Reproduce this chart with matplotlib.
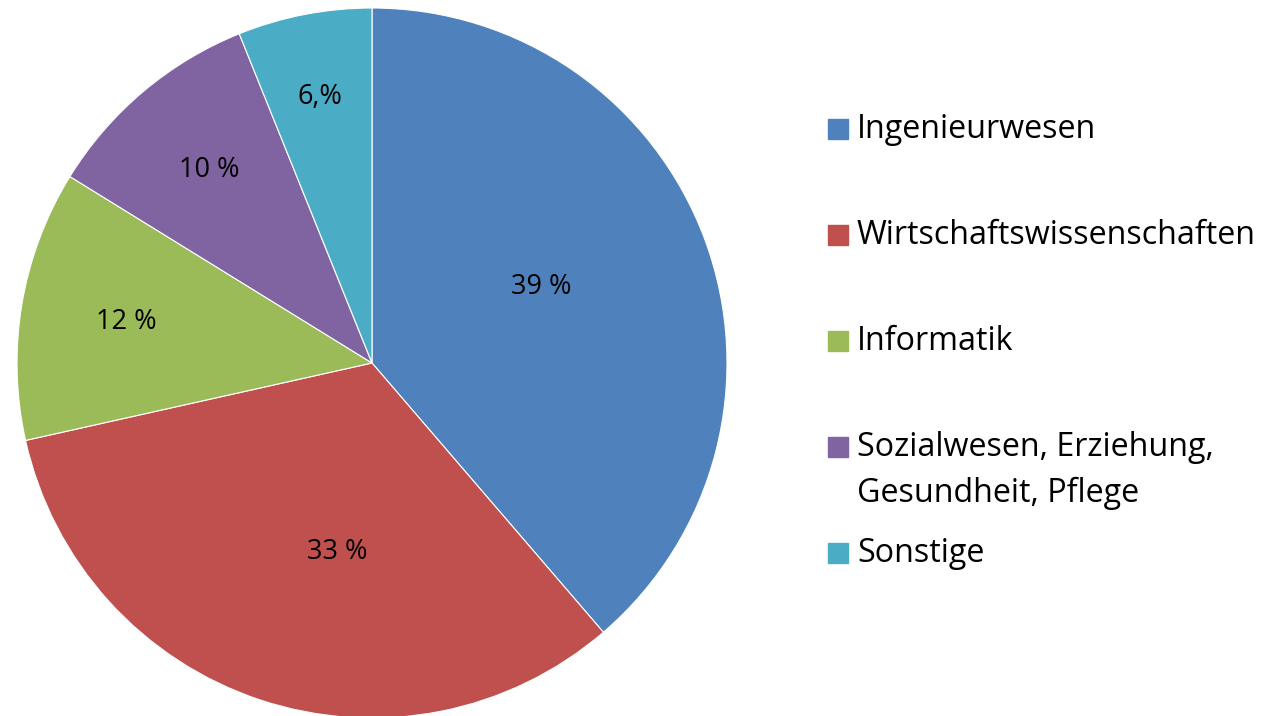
import matplotlib
matplotlib.use('Agg')
import matplotlib.pyplot as plt
from matplotlib.patches import Rectangle
import numpy as np

# data
fields = ['Ingenieurwesen', 'Wirtschaftswissenschaften', 'Informatik',
          'Sozialwesen, Erziehung,\nGesundheit, Pflege', 'Sonstige']
shares = [38.7, 32.8, 12.3, 10.1, 6.1]
pct_labels = ['39 %', '33 %', '12 %', '10 %', '6,%']

colors = ['#4F81BD', '#C0504D', '#9BBB59', '#8064A2', '#4BACC6']

plt.rcParams['font.family'] = ['Open Sans', 'DejaVu Sans']

W, H = 1269, 716
fig = plt.figure(figsize=(W / 100, H / 100), dpi=100)

# pie: centre (372, 363) px, radius 355 px
cx, cy, R = 372, 363, 355
ax = fig.add_axes([(cx - R) / W, (H - cy - R) / H, 2 * R / W, 2 * R / H])
wedges, _ = ax.pie(shares, colors=colors, startangle=90, counterclock=False,
                   wedgeprops={'edgecolor': 'white', 'linewidth': 0.8})
ax.set_xlim(-1, 1)
ax.set_ylim(-1, 1)

# label placement (Excel "best fit" look)
label_r = [0.522, 0.541, 0.701, 0.710, 0.763]
label_shift = [4, 8, 0, 0, 0]
for w, txt, r, sh in zip(wedges, pct_labels, label_r, label_shift):
    ang = np.deg2rad((w.theta1 + w.theta2) / 2 + sh)
    ax.text(r * np.cos(ang), r * np.sin(ang), txt, ha='center', va='center',
            fontsize=19.5, color='black')

# legend drawn by hand
leg_y = [129, 235, 341, 447, 553]
line_gap = 46
for name, col, y in zip(fields, colors, leg_y):
    fig.patches.append(Rectangle((828 / W, (H - y - 10) / H), 20 / W, 20 / H,
                                 transform=fig.transFigure, color=col))
    for k, line in enumerate(name.split('\n')):
        fig.text(857 / W, (H - y - k * line_gap) / H, line, ha='left', va='center',
                 fontsize=23.2)

fig.savefig('out.png', dpi=100)
